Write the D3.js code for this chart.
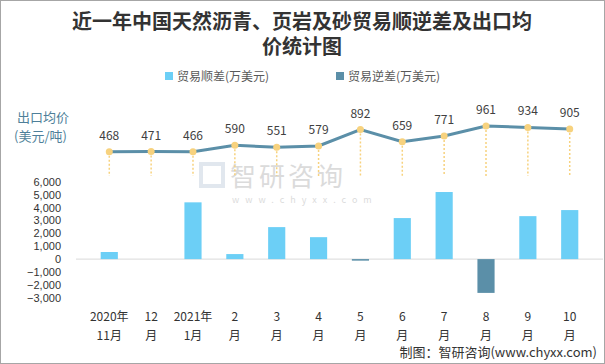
<!DOCTYPE html>
<html>
<head>
<meta charset="utf-8">
<script src="https://cdn.jsdelivr.net/npm/d3@7"></script>
<style>
  body { margin: 0; background: #fff; }
  svg { display: block; font-family: "Microsoft YaHei", "Noto Sans CJK SC", sans-serif; }
</style>
</head>
<body>
<div id="chart"></div>
<script>
const months = ["2020年|11月", "12|月", "2021年|1月", "2|月", "3|月", "4|月", "5|月", "6|月", "7|月", "8|月", "9|月", "10|月"];
const surplus = [550, 0, 4400, 390, 2480, 1700, 0, 3180, 5200, 0, 3330, 3800];
const deficit = [0, 0, 0, 0, 0, 0, -120, 0, 0, -2620, 0, 0];
const price = [468, 471, 466, 590, 551, 579, 892, 659, 771, 961, 934, 905];
const yTicks = [6000, 5000, 4000, 3000, 2000, 1000, 0, -1000, -2000, -3000];

const W = 605, H = 364;
const svg = d3.select("#chart").append("svg")
    .attr("width", W)
    .attr("height", H);

svg.append("rect")
    .attr("x", 0.5).attr("y", 0.5)
    .attr("width", W - 1).attr("height", H - 1)
    .attr("fill", "#fff")
    .attr("stroke", "#a6a6a6");

// title
const title = svg.append("text")
    .attr("text-anchor", "middle")
    .style("font-family", "'Noto Sans CJK SC', serif")
    .style("font-weight", "bold")
    .style("font-size", "20px")
    .style("fill", "#333");
title.append("tspan").attr("x", 302).attr("y", 29).text("近一年中国天然沥青、页岩及砂贸易顺逆差及出口均");
title.append("tspan").attr("x", 302).attr("y", 54).text("价统计图");

// legend
const legend = [
    {label: "贸易顺差(万美元)", color: "#6ccff6", x: 165},
    {label: "贸易逆差(万美元)", color: "#5b8fa8", x: 336}
];
legend.forEach(l => {
    svg.append("rect").attr("x", l.x).attr("y", 72).attr("width", 8).attr("height", 8).attr("fill", l.color);
    svg.append("text").attr("x", l.x + 12).attr("y", 80.5)
        .style("font-size", "12px").style("fill", "#595959").text(l.label);
});

// watermark
const wm = svg.append("g").attr("opacity", 0.3);
wm.append("text").attr("x", 230).attr("y", 186)
    .style("font-size", "26px").style("fill", "#8a8a8a").style("letter-spacing", "3px").text("智研咨询");
wm.append("text").attr("x", 232).attr("y", 203)
    .style("font-size", "9px").style("fill", "#8a8a8a").style("letter-spacing", "6px").text("www.chyxx.com");
wm.append("rect").attr("x", 201).attr("y", 164).attr("width", 22).attr("height", 22)
    .attr("fill", "none").attr("stroke", "#9fb3c8").attr("stroke-width", 4);

// scales
const x = d3.scaleBand()
    .domain(months)
    .range([76, 603])
    .padding(0.59);

const y = d3.scaleLinear()
    .domain([-3000, 6000])
    .range([297.8, 181.7]);

const yPrice = d3.scaleLinear()
    .domain([0, 1000])
    .range([176, 124]);

// y axis labels
svg.selectAll(".ytick")
    .data(yTicks)
    .enter()
    .append("text")
    .attr("class", "ytick")
    .attr("x", 61)
    .attr("y", d => y(d) + 4)
    .attr("text-anchor", "end")
    .style("font-family", "'Liberation Sans', Arial, sans-serif")
    .style("font-size", "11px")
    .style("fill", "#333")
    .text(d => d3.format(",")(d));

// zero line
svg.append("line")
    .attr("x1", 76).attr("x2", 603)
    .attr("y1", y(0)).attr("y2", y(0))
    .attr("stroke", "#d9d9d9")
    .attr("stroke-width", 1);

// surplus bars
svg.selectAll(".surplus-bar")
    .data(surplus)
    .enter()
    .append("rect")
    .attr("class", "surplus-bar")
    .attr("x", (d, i) => x(months[i]))
    .attr("y", d => y(d))
    .attr("width", x.bandwidth())
    .attr("height", d => y(0) - y(d))
    .attr("fill", "#6ccff6");

// deficit bars
svg.selectAll(".deficit-bar")
    .data(deficit)
    .enter()
    .append("rect")
    .attr("class", "deficit-bar")
    .attr("x", (d, i) => x(months[i]))
    .attr("y", y(0))
    .attr("width", x.bandwidth())
    .attr("height", d => y(d) - y(0))
    .attr("fill", "#5b8fa8");

// x labels
svg.selectAll(".xlabel")
    .data(months)
    .enter()
    .append("text")
    .attr("class", "xlabel")
    .attr("text-anchor", "middle")
    .style("font-size", "12px")
    .style("fill", "#333")
    .each(function(d) {
        const parts = d.split("|");
        const cx = x(d) + x.bandwidth() / 2;
        d3.select(this).append("tspan").attr("x", cx).attr("y", 321).text(parts[0]);
        d3.select(this).append("tspan").attr("x", cx).attr("y", 340).text(parts[1]);
    });

// price label on left
svg.append("text").attr("x", 17).attr("y", 122)
    .style("font-size", "13px").style("fill", "#4e7f99").text("出口均价");
svg.append("text").attr("x", 14).attr("y", 141)
    .style("font-size", "13px").style("fill", "#4e7f99").text("(美元/吨)");

const cx = (d, i) => x(months[i]) + x.bandwidth() / 2;

// drop lines
svg.selectAll(".drop")
    .data(price)
    .enter()
    .append("line")
    .attr("class", "drop")
    .attr("x1", cx).attr("x2", cx)
    .attr("y1", d => yPrice(d))
    .attr("y2", yPrice(0))
    .attr("stroke", "#f7d27e")
    .attr("stroke-width", 1.5)
    .attr("stroke-dasharray", "2,2");

// price line
svg.append("path")
    .datum(price)
    .attr("fill", "none")
    .attr("stroke", "#5b8fa8")
    .attr("stroke-width", 3)
    .attr("d", d3.line().x(cx).y(d => yPrice(d)));

svg.selectAll(".dot")
    .data(price)
    .enter()
    .append("circle")
    .attr("class", "dot")
    .attr("cx", cx)
    .attr("cy", d => yPrice(d))
    .attr("r", 3.5)
    .attr("fill", "#f7d27e");

svg.selectAll(".plabel")
    .data(price)
    .enter()
    .append("text")
    .attr("class", "plabel")
    .attr("x", cx)
    .attr("y", d => yPrice(d) - 12)
    .attr("text-anchor", "middle")
    .style("font-size", "12px")
    .style("fill", "#404040")
    .text(d => d);

// footer
svg.append("text")
    .attr("x", 597).attr("y", 357)
    .attr("text-anchor", "end")
    .style("font-size", "13px")
    .style("fill", "#333")
    .text("制图：智研咨询(www.chyxx.com)");
</script>
</body>
</html>
